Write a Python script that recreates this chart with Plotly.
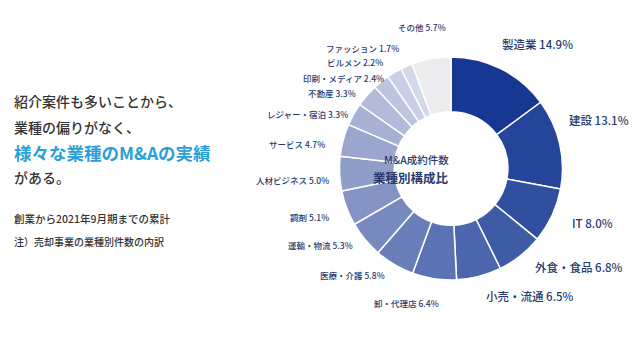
import math
import plotly.graph_objects as go

categories = ["製造業", "建設", "IT", "外食・食品", "小売・流通", "卸・代理店", "医療・介護",
              "運輸・物流", "調剤", "人材ビジネス", "サービス", "レジャー・宿泊", "不動産",
              "印刷・メディア", "ビルメン", "ファッション", "その他"]
shares = [14.9, 13.1, 8.0, 6.8, 6.5, 6.4, 5.8, 5.3, 5.1, 5.0, 4.7, 3.3, 3.3, 2.4, 2.2, 1.7, 5.7]
colors = ["#173892", "#24459a", "#30509f", "#3e5ba6", "#4c66ad", "#5b73b3", "#6a7fb9",
          "#7789be", "#8493c3", "#8f9dc8", "#9aa6cd", "#a7b1d4", "#b2bbd9", "#bdc5df",
          "#c7cee5", "#d3d8ea", "#ececef"]
big_labels = {"製造業", "建設", "IT", "外食・食品", "小売・流通"}

# small pixel nudges of the outside labels (layout tweak, in px)
label_nudge = [(-10, -7), (-12, -19), (0, -1), (0, -4), (0, 0), (10, 4), (3, -7),
               (5, -7), (3, 2), (11, 5), (3, 9), (14, 9), (6, 11), (17, 12), (1, 7),
               (3, 0), (-6, -12)]

W, H = 640, 354
cx, cy, R = 451, 168.5, 111.5
FONT = "Noto Sans CJK JP"
LABEL_COLOR = "#283a6e"

fig = go.Figure()
fig.add_trace(go.Pie(
    labels=categories, values=shares, sort=False, direction="clockwise", rotation=0,
    hole=0.51, textinfo="none", hoverinfo="label+value",
    marker=dict(colors=colors, line=dict(color="white", width=1.5)),
    domain=dict(x=[(cx - R) / W, (cx + R) / W], y=[(H - cy - R) / H, (H - cy + R) / H]),
    showlegend=False,
))

annotations = []
total = sum(shares)
cum = 0.0
for (name, v), (dx, dy) in zip(zip(categories, shares), label_nudge):
    mid = (cum + v / 2) / total * 2 * math.pi
    cum += v
    s, c = math.sin(mid), math.cos(mid)
    rl = R + 20
    px = cx + rl * s + dx
    py = cy - rl * c + dy
    if abs(s) < 0.2 and c > 0:
        xa = "center"
    elif s > 0:
        xa = "left"
    else:
        xa = "right"
    size = 11.5 if name in big_labels else 8.5
    annotations.append(dict(
        x=px / W, y=1 - py / H, xref="paper", yref="paper", xanchor=xa, yanchor="middle",
        text=f"{name} {v:.1f}%", showarrow=False,
        font=dict(family=FONT, size=size, color=LABEL_COLOR, weight=500),
    ))

# center texts
annotations.append(dict(x=cx / W, y=1 - 159 / H, xref="paper", yref="paper", text="M&A成約件数",
                        showarrow=False, font=dict(family=FONT, size=10.5, color=LABEL_COLOR, weight=500)))
annotations.append(dict(x=cx / W, y=1 - 177 / H, xref="paper", yref="paper", text="<b>業種別構成比</b>",
                        showarrow=False, font=dict(family=FONT, size=12.5, color=LABEL_COLOR)))

# left descriptive text
left_lines = [
    ("紹介案件も多いことから、", 101, 14, "#333333", 500),
    ("業種の偏りがなく、", 127, 14, "#333333", 500),
    ("様々な業種のM&Aの実績", 152, 17.5, "#2a9fd8", 700),
    ("がある。", 177, 14, "#333333", 500),
    ("創業から2021年9月期までの累計", 218, 10.5, "#333333", 500),
    ("注）売却事業の業種別件数の内訳", 241, 10, "#333333", 500),
]
for txt, y, size, col, wt in left_lines:
    annotations.append(dict(x=12 / W, y=1 - y / H, xref="paper", yref="paper", xanchor="left",
                            yanchor="middle", text=txt,
                            showarrow=False, font=dict(family=FONT, size=size, color=col, weight=wt)))

fig.update_layout(
    width=W, height=H, margin=dict(l=0, r=0, t=0, b=0),
    paper_bgcolor="white", plot_bgcolor="white",
    annotations=annotations,
)
fig.write_html("out.html")
